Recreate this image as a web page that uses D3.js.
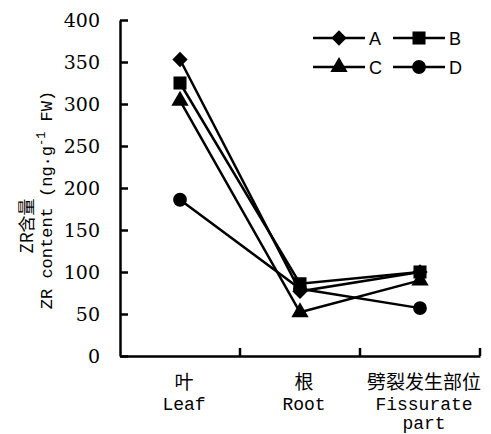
<!DOCTYPE html>
<html>
<head>
<meta charset="utf-8">
<script src="https://cdn.jsdelivr.net/npm/d3@7"></script>
<style>
  body { margin: 0; background: #fff; }
  svg { display: block; }
  .serif { font-family: "DejaVu Serif", "Liberation Serif", serif; }
</style>
</head>
<body>
<svg id="chart" width="491" height="434"></svg>
<script>
// parts of the plant (x categories)
let parts = ['叶', '根', '劈裂发生部位'];
let partsEn = [['Leaf'], ['Root'], ['Fissurate', 'part']];

// ZR content per treatment
let seriesNames = ['A', 'B', 'C', 'D'];
let valuesA = [353, 77, 100];
let valuesB = [325, 86, 100];
let valuesC = [304, 52, 90];
let valuesD = [186, 80, 57];

let yTicks = [0, 50, 100, 150, 200, 250, 300, 350, 400];

let svg = d3.select('#chart');

let x = d3.scaleBand().domain(parts).range([120, 480]);
let y = d3.scaleLinear().domain([0, 400]).range([356, 20]);

let symbols = {
  A: d3.symbolDiamond2,
  B: d3.symbolSquare,
  C: d3.symbolTriangle,
  D: d3.symbolCircle
};
let symSize = { A: 150, B: 170, C: 130, D: 150 };

let series = [
  { name: 'A', values: valuesA },
  { name: 'B', values: valuesB },
  { name: 'C', values: valuesC },
  { name: 'D', values: valuesD }
];

// y axis, ticks pointing inside
let yAxis = svg.append('g')
  .attr('transform', 'translate(120,0)')
  .call(d3.axisLeft(y).tickValues(yTicks).tickSizeInner(-8).tickSizeOuter(0).tickPadding(20));
yAxis.attr('font-family', null).attr('font-size', null);
yAxis.selectAll('path, line').attr('stroke', '#000').attr('stroke-width', 2.5);
yAxis.selectAll('text')
  .attr('class', 'serif')
  .style('font-size', '19px')
  .attr('fill', '#000');

// x axis line with ticks at the band edges
let xAxis = svg.append('g')
  .attr('transform', 'translate(0,356)')
  .call(d3.axisBottom(x).tickSize(0).tickFormat(''));
xAxis.select('path').attr('stroke', '#000').attr('stroke-width', 2.5);
xAxis.selectAll('.tick').remove();
xAxis.selectAll('line.edge')
  .data(parts)
  .enter()
  .append('line')
  .attr('class', 'edge')
  .attr('x1', d => x(d) + x.bandwidth())
  .attr('x2', d => x(d) + x.bandwidth())
  .attr('y1', 0)
  .attr('y2', -8)
  .attr('stroke', '#000')
  .attr('stroke-width', 2.5);

// category labels
parts.forEach((p, i) => {
  let cx = x(p) + x.bandwidth() / 2 + 4;
  svg.append('text')
    .attr('x', cx)
    .attr('y', 389)
    .attr('text-anchor', 'middle')
    .attr('fill', '#000')
    .style('font-family', '"Noto Sans CJK SC", sans-serif')
    .style('font-size', '19px')
    .text(p);
  partsEn[i].forEach((t, j) => {
    svg.append('text')
      .attr('x', cx)
      .attr('y', 410 + j * 19)
      .attr('text-anchor', 'middle')
      .attr('fill', '#000')
      .style('font-family', '"Liberation Mono", monospace')
      .style('font-size', '18px')
      .text(t);
  });
});

// y title (two lines)
svg.append('text')
  .attr('transform', 'translate(33,226) rotate(-90)')
  .attr('text-anchor', 'middle')
  .attr('fill', '#000')
  .style('font-family', '"Noto Sans CJK SC", sans-serif')
  .style('font-size', '17px')
  .text('ZR含量');

let yTitle = svg.append('text')
  .attr('transform', 'translate(52,200) rotate(-90)')
  .attr('text-anchor', 'middle')
  .attr('fill', '#000')
  .style('font-family', '"Liberation Mono", monospace')
  .style('font-size', '17px');
yTitle.append('tspan').text('ZR content (ng·g');
yTitle.append('tspan').attr('dy', -7).style('font-size', '12px').text('-1');
yTitle.append('tspan').attr('dy', 7).text(' FW)');

// lines and markers
let line = d3.line()
  .x((d, i) => x(parts[i]) + x.bandwidth() / 2)
  .y(d => y(d));

series.forEach(s => {
  svg.append('path')
    .attr('d', line(s.values))
    .attr('fill', 'none')
    .attr('stroke', '#000')
    .attr('stroke-width', 2.5);
  svg.selectAll('path.m' + s.name)
    .data(s.values)
    .enter()
    .append('path')
    .attr('class', 'm' + s.name)
    .attr('transform', (d, i) => 'translate(' + (x(parts[i]) + x.bandwidth() / 2) + ',' + y(d) + ')')
    .attr('d', d3.symbol().type(symbols[s.name]).size(symSize[s.name]))
    .attr('fill', '#000');
});

// legend
let legendPos = [[313, 38], [393, 38], [313, 67], [393, 67]];
seriesNames.forEach((n, i) => {
  let lx = legendPos[i][0];
  let ly = legendPos[i][1];
  svg.append('line')
    .attr('x1', lx).attr('x2', lx + 52)
    .attr('y1', ly).attr('y2', ly)
    .attr('stroke', '#000')
    .attr('stroke-width', 2.5);
  svg.append('path')
    .attr('transform', 'translate(' + (lx + 26) + ',' + ly + ')')
    .attr('d', d3.symbol().type(symbols[n]).size(symSize[n]))
    .attr('fill', '#000');
  svg.append('text')
    .attr('x', lx + 56)
    .attr('y', ly + 7)
    .attr('fill', '#000')
    .style('font-family', '"Liberation Sans Narrow", "Liberation Sans", sans-serif')
    .style('font-size', '18px')
    .text(n);
});
</script>
</body>
</html>
